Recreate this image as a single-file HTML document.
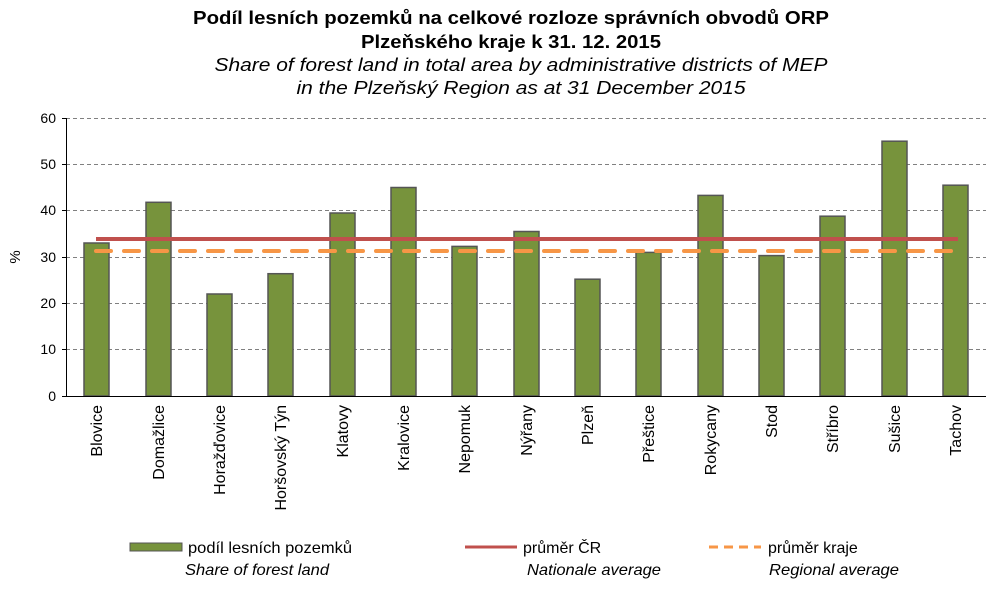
<!DOCTYPE html>
<html><head><meta charset="utf-8"><style>body{margin:0;background:#fff}svg{display:block}</style></head><body>
<svg width="1002" height="590" xmlns="http://www.w3.org/2000/svg" font-family="Liberation Sans, Arial, sans-serif">
<rect width="1002" height="590" fill="#fff"/>
<g text-anchor="middle" font-size="18">
<text x="511" y="24" font-weight="bold" textLength="636" lengthAdjust="spacingAndGlyphs">Podíl lesních pozemků na celkové rozloze správních obvodů ORP</text>
<text x="511" y="48" font-weight="bold" textLength="300" lengthAdjust="spacingAndGlyphs">Plzeňského kraje k 31. 12. 2015</text>
<text x="521" y="71" font-style="italic" textLength="613" lengthAdjust="spacingAndGlyphs">Share of forest land in total area by administrative districts of MEP</text>
<text x="521" y="94" font-style="italic" textLength="449" lengthAdjust="spacingAndGlyphs">in the Plzeňský Region as at 31 December 2015</text>
</g>
<g stroke="#808080" stroke-dasharray="4,3" stroke-width="1">
<line x1="66" x2="986" y1="118.5" y2="118.5"/><line x1="66" x2="986" y1="164.5" y2="164.5"/><line x1="66" x2="986" y1="210.5" y2="210.5"/><line x1="66" x2="986" y1="257.5" y2="257.5"/><line x1="66" x2="986" y1="303.5" y2="303.5"/><line x1="66" x2="986" y1="349.5" y2="349.5"/>
</g>
<g font-size="14" text-anchor="end">
<text x="56" y="123">60</text><text x="56" y="169">50</text><text x="56" y="215">40</text><text x="56" y="262">30</text><text x="56" y="308">20</text><text x="56" y="354">10</text><text x="56" y="401">0</text>
</g>
<text transform="translate(20,257) rotate(-90)" font-size="15" text-anchor="middle">%</text>
<g fill="#77933C" stroke="#555" stroke-width="1.5">
<rect x="84" y="243" width="25" height="153"/>
<rect x="146" y="202.3" width="25" height="193.7"/>
<rect x="207" y="294" width="25" height="102"/>
<rect x="268" y="273.7" width="25" height="122.3"/>
<rect x="330" y="213" width="25" height="183"/>
<rect x="391" y="187.5" width="25" height="208.5"/>
<rect x="452" y="246.4" width="25" height="149.6"/>
<rect x="514" y="231.5" width="25" height="164.5"/>
<rect x="575" y="279.2" width="25" height="116.8"/>
<rect x="636" y="252.4" width="25" height="143.6"/>
<rect x="698" y="195.4" width="25" height="200.6"/>
<rect x="759" y="255.6" width="25" height="140.4"/>
<rect x="820" y="216.2" width="25" height="179.8"/>
<rect x="882" y="141.2" width="25" height="254.8"/>
<rect x="943" y="185.2" width="25" height="210.8"/>
</g>
<line x1="96" x2="958" y1="239" y2="239" stroke="#C0504D" stroke-width="4"/>
<line x1="96" x2="958" y1="251" y2="251" stroke="#F79646" stroke-width="4" stroke-dasharray="15,13" stroke-linecap="round"/>
<g stroke="#000" stroke-width="1">
<line x1="66.5" x2="66.5" y1="118" y2="396"/><line x1="66" x2="986" y1="396.5" y2="396.5"/>
<line x1="62" x2="66" y1="118.5" y2="118.5"/><line x1="62" x2="66" y1="164.5" y2="164.5"/><line x1="62" x2="66" y1="210.5" y2="210.5"/><line x1="62" x2="66" y1="257.5" y2="257.5"/><line x1="62" x2="66" y1="303.5" y2="303.5"/><line x1="62" x2="66" y1="349.5" y2="349.5"/><line x1="62" x2="66" y1="396.5" y2="396.5"/>
</g>
<g font-size="16" text-anchor="end">
<text transform="translate(102,405) rotate(-90)">Blovice</text>
<text transform="translate(164,405) rotate(-90)">Domažlice</text>
<text transform="translate(225,405) rotate(-90)">Horažďovice</text>
<text transform="translate(286,405) rotate(-90)">Horšovský Týn</text>
<text transform="translate(348,405) rotate(-90)">Klatovy</text>
<text transform="translate(409,405) rotate(-90)">Kralovice</text>
<text transform="translate(470,405) rotate(-90)">Nepomuk</text>
<text transform="translate(532,405) rotate(-90)">Nýřany</text>
<text transform="translate(593,405) rotate(-90)">Plzeň</text>
<text transform="translate(654,405) rotate(-90)">Přeštice</text>
<text transform="translate(716,405) rotate(-90)">Rokycany</text>
<text transform="translate(777,405) rotate(-90)">Stod</text>
<text transform="translate(838,405) rotate(-90)">Stříbro</text>
<text transform="translate(900,405) rotate(-90)">Sušice</text>
<text transform="translate(961,405) rotate(-90)">Tachov</text>
</g>
<rect x="130" y="543" width="52" height="8" fill="#77933C" stroke="#555" stroke-width="1"/>
<line x1="465" x2="517" y1="547" y2="547" stroke="#C0504D" stroke-width="3"/>
<line x1="709" x2="761" y1="547" y2="547" stroke="#F79646" stroke-width="3" stroke-dasharray="9,6"/>
<g font-size="16">
<text x="188" y="553" textLength="164" lengthAdjust="spacingAndGlyphs">podíl lesních pozemků</text>
<text x="185" y="575" font-style="italic" textLength="144" lengthAdjust="spacingAndGlyphs">Share of forest land</text>
<text x="523" y="553">průměr ČR</text>
<text x="527" y="575" font-style="italic" textLength="134" lengthAdjust="spacingAndGlyphs">Nationale average</text>
<text x="768" y="553">průměr kraje</text>
<text x="769" y="575" font-style="italic" textLength="130" lengthAdjust="spacingAndGlyphs">Regional average</text>
</g>
</svg>
</body></html>
